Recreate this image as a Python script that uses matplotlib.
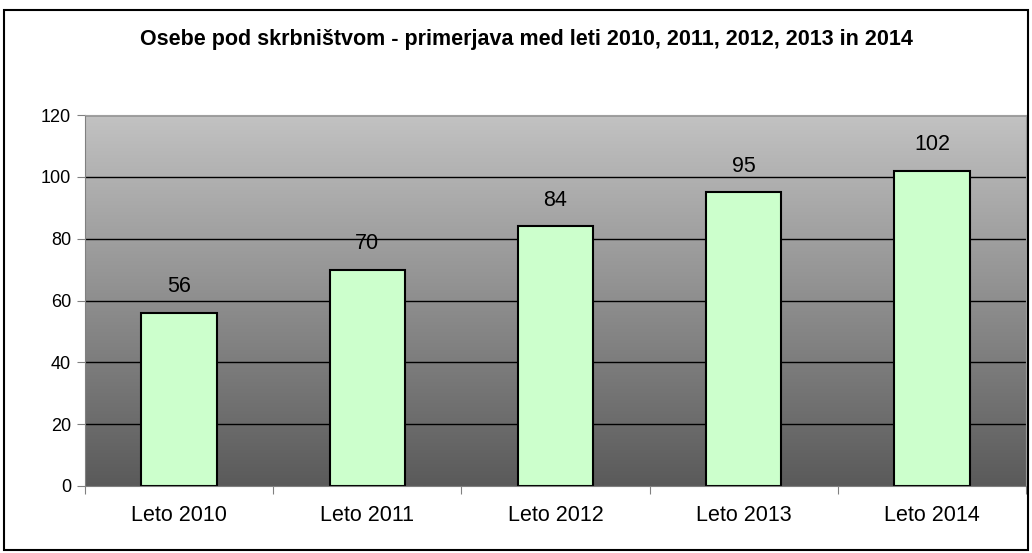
import matplotlib
matplotlib.use("Agg")
import matplotlib.pyplot as plt
from matplotlib.patches import Rectangle
import numpy as np

plt.rcParams['font.family'] = ['Liberation Sans', 'DejaVu Sans']

# podatki
categories = ["Leto 2010", "Leto 2011", "Leto 2012", "Leto 2013", "Leto 2014"]
values = [56, 70, 84, 95, 102]
title = "Osebe pod skrbništvom - primerjava med leti 2010, 2011, 2012, 2013 in 2014"

W, H = 1032, 553
fig = plt.figure(figsize=(W / 100, H / 100), dpi=100)
ax = fig.add_axes([85 / W, 1 - 486 / H, 941 / W, 371 / H])

# okvir okoli celotnega grafa
fig.patches.append(Rectangle((4 / W, 1 - 550 / H), 1024 / W, 540 / H,
                             transform=fig.transFigure, fill=False,
                             edgecolor="black", linewidth=1.5))

# sivi preliv v ozadju
grad = np.linspace(0, 1, 256).reshape(-1, 1)
cmap = matplotlib.colors.LinearSegmentedColormap.from_list("g", ["#5a5a5a", "#c2c2c2"])
ax.imshow(grad, extent=[0, 1, 0, 1], transform=ax.transAxes, cmap=cmap,
          aspect="auto", origin="lower", zorder=0)

x = np.arange(len(categories))
ax.set_xlim(-0.5, len(categories) - 0.5)
ax.set_ylim(0, 120)
ax.set_yticks(range(0, 121, 20))
for y in range(20, 121, 20):
    ax.axhline(y, color="black", linewidth=1, zorder=1)

ax.bar(x, values, width=0.4, color="#ccffcc", edgecolor="black",
       linewidth=1.5, zorder=2)
for xi, v in zip(x, values):
    ax.text(xi, v + 5, str(v), ha="center", va="bottom", fontsize=15.5)

ax.set_xticks(np.arange(-0.5, len(categories), 1))
ax.set_xticklabels([])
ax.set_xticks(x, minor=True)
ax.set_xticklabels(categories, minor=True, fontsize=15.5)
ax.tick_params(axis="x", which="minor", length=0, pad=14)
ax.tick_params(axis="x", which="major", length=6, color="#808080", direction="out")
ax.tick_params(axis="y", length=6, color="#808080", labelsize=13, pad=4)

for s in ["top", "right"]:
    ax.spines[s].set_color("#a0a0a0")
for s in ["left", "bottom"]:
    ax.spines[s].set_color("#808080")

fig.text(526.5 / W, 1 - 39 / H, title, ha="center", va="center",
         fontsize=15.5, fontweight="bold")

fig.savefig("out.png", dpi=100)
